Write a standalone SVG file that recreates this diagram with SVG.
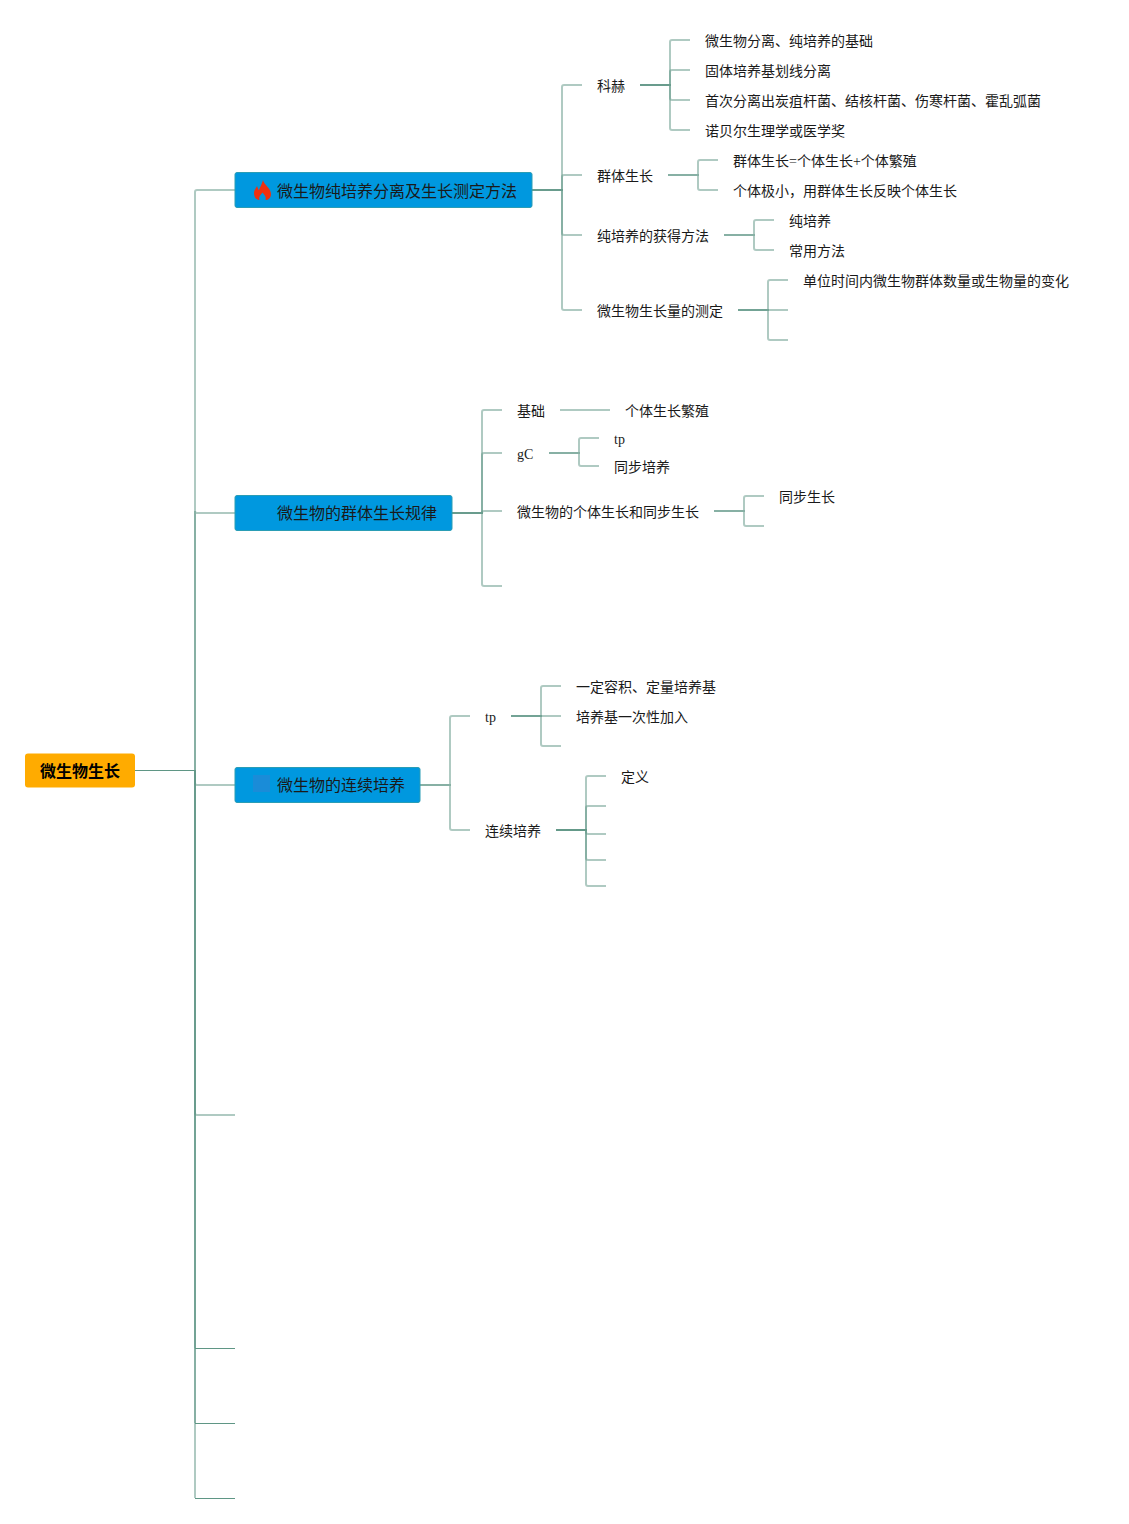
<svg xmlns="http://www.w3.org/2000/svg" width="1129" height="1524" viewBox="0 0 1129 1524">
<style>
text{font-family:"Liberation Serif","Noto Sans CJK SC",serif;font-size:14px;fill:#1a1a1a}
.t{font-size:16px}
.r{font-size:16px;font-weight:bold;fill:#000}
.n{fill:#0098df;stroke:#2a9db5;stroke-width:1}
#connectors path{fill:none;stroke:#5f9685;stroke-opacity:.5;stroke-width:2}
#connectors .s{stroke-width:1;stroke-opacity:1}
</style>
<rect width="1129" height="1524" fill="#fff"/>
<g id="connectors">
<path class="s" d="M135 770.500H195"/>
<path d="M195 770V192Q195 190 197 190H235"/>
<path d="M195 770V511Q195 513 197 513H235"/>
<path d="M195 770V783Q195 785 197 785H235"/>
<path d="M195 770V1113Q195 1115 197 1115H235"/>
<path d="M195 770V1348"/>
<path class="s" d="M195 1348.500H235"/>
<path d="M195 770V1423"/>
<path class="s" d="M195 1423.500H235"/>
<path d="M195 770V1498"/>
<path class="s" d="M195 1498.500H235"/>
<path d="M532 190H562V87Q562 85 564 85H582"/>
<path d="M532 190H562V177Q562 175 564 175H582"/>
<path d="M532 190H562V233Q562 235 564 235H582"/>
<path d="M532 190H562V308Q562 310 564 310H582"/>
<path d="M640 85H670V42Q670 40 672 40H690"/>
<path d="M640 85H670V72Q670 70 672 70H690"/>
<path d="M640 85H670V98Q670 100 672 100H690"/>
<path d="M640 85H670V128Q670 130 672 130H690"/>
<path d="M668 175H698V162Q698 160 700 160H718"/>
<path d="M668 175H698V188Q698 190 700 190H718"/>
<path d="M724 235H754V222Q754 220 756 220H774"/>
<path d="M724 235H754V248Q754 250 756 250H774"/>
<path d="M738 310H768V282Q768 280 770 280H788"/>
<path d="M738 310H788"/>
<path d="M738 310H768V338Q768 340 770 340H788"/>
<path d="M452 513H482V412Q482 410 484 410H502"/>
<path d="M452 513H482V455Q482 453 484 453H502"/>
<path d="M452 513H482V513Q482 511 484 511H502"/>
<path d="M452 513H482V584Q482 586 484 586H502"/>
<path d="M560 410H610"/>
<path d="M549 453H579V440Q579 438 581 438H599"/>
<path d="M549 453H579V464Q579 466 581 466H599"/>
<path d="M714 511H744V498Q744 496 746 496H764"/>
<path d="M714 511H744V524Q744 526 746 526H764"/>
<path d="M420 785H450V718Q450 716 452 716H470"/>
<path d="M420 785H450V828Q450 830 452 830H470"/>
<path d="M511 716H541V688Q541 686 543 686H561"/>
<path d="M511 716H561"/>
<path d="M511 716H541V744Q541 746 543 746H561"/>
<path d="M556 830H586V778Q586 776 588 776H606"/>
<path d="M556 830H586V808Q586 806 588 806H606"/>
<path d="M556 830H586V832Q586 834 588 834H606"/>
<path d="M556 830H586V858Q586 860 588 860H606"/>
<path d="M556 830H586V884Q586 886 588 886H606"/>
</g>
<g id="root"><rect x="25" y="753.500" width="110" height="34" rx="3" fill="#ffab00"/><text class="r" x="40" y="777">微生物生长</text></g>
<g id="n1"><rect class="n" x="235" y="172.500" width="297" height="35" rx="2"/>
<path d="M263 180C264 185 271 188 271 194C271 198 268 200 265.500 200C266.500 197 264.500 195 262.500 192.500C260.500 195 258.500 197 259.500 200C257 200 254 198 254 193C254 190 256 188 257 186C258 188 258 190 259 190C260 187 262 184 263 180Z" fill="#f0300f"/>
<text class="t" x="277" y="197">微生物纯培养分离及生长测定方法</text></g>
<g id="n2"><rect class="n" x="235" y="495.500" width="217" height="35" rx="2"/><text class="t" x="277" y="519">微生物的群体生长规律</text></g>
<g id="n3"><rect class="n" x="235" y="767.500" width="185" height="35" rx="2"/><rect x="253" y="775" width="17" height="17" fill="#1a8cd8"/><text class="t" x="277" y="791">微生物的连续培养</text></g>
<g id="a1"><text x="597" y="91">科赫</text></g>
<g id="a2"><text x="705" y="46">微生物分离、纯培养的基础</text></g>
<g id="a3"><text x="705" y="76">固体培养基划线分离</text></g>
<g id="a4"><text x="705" y="106">首次分离出炭疽杆菌、结核杆菌、伤寒杆菌、霍乱弧菌</text></g>
<g id="a5"><text x="705" y="136">诺贝尔生理学或医学奖</text></g>
<g id="a6"><text x="597" y="181">群体生长</text></g>
<g id="a7"><text x="733" y="166">群体生长=个体生长+个体繁殖</text></g>
<g id="a8"><text x="733" y="196">个体极小，用群体生长反映个体生长</text></g>
<g id="a9"><text x="597" y="241">纯培养的获得方法</text></g>
<g id="a10"><text x="789" y="226">纯培养</text></g>
<g id="a11"><text x="789" y="256">常用方法</text></g>
<g id="a12"><text x="597" y="316">微生物生长量的测定</text></g>
<g id="a13"><text x="803" y="286">单位时间内微生物群体数量或生物量的变化</text></g>
<g id="b1"><text x="517" y="416">基础</text></g>
<g id="b2"><text x="625" y="416">个体生长繁殖</text></g>
<g id="b3"><text x="517" y="459">gC</text></g>
<g id="b4"><text x="614" y="444">tp</text></g>
<g id="b5"><text x="614" y="472">同步培养</text></g>
<g id="b6"><text x="517" y="517">微生物的个体生长和同步生长</text></g>
<g id="b7"><text x="779" y="502">同步生长</text></g>
<g id="c1"><text x="485" y="722">tp</text></g>
<g id="c2"><text x="576" y="692">一定容积、定量培养基</text></g>
<g id="c3"><text x="576" y="722">培养基一次性加入</text></g>
<g id="c4"><text x="485" y="836">连续培养</text></g>
<g id="c5"><text x="621" y="782">定义</text></g>
</svg>
